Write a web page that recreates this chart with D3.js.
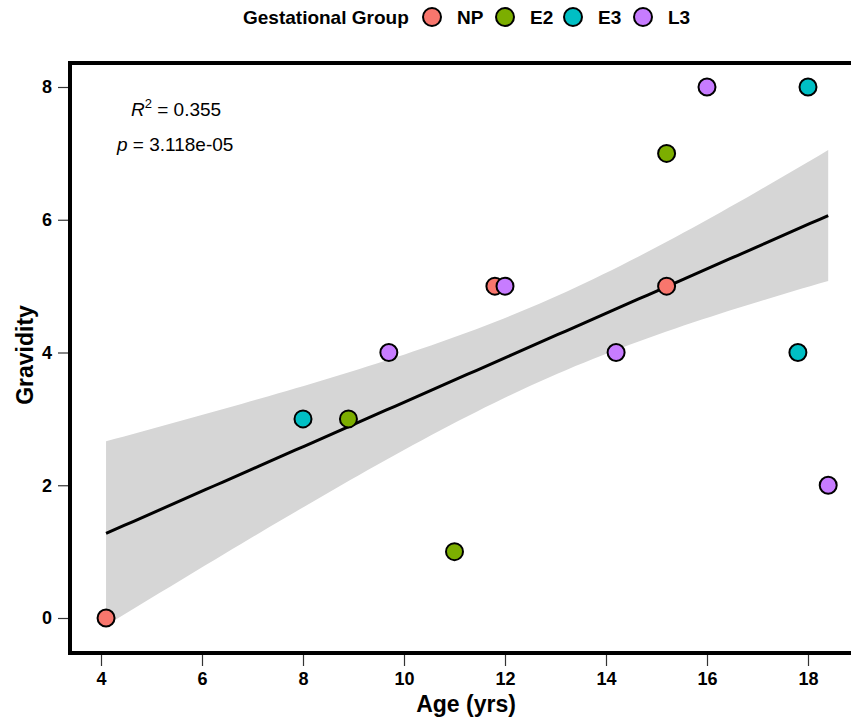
<!DOCTYPE html>
<html>

<head>
    <meta charset="UTF-8">
    <title>Gravidity vs age</title>
    <script src="https://d3js.org/d3.v7.min.js"></script>
    <style>
        body { margin: 0; background: #fff; }
        text { font-family: "Liberation Sans", Arial, sans-serif; }
    </style>
</head>

<body>
    <script>
        // values
        const groups = ["NP", "E2", "E3", "L3"];
        const groupColors = ["#F8766D", "#7CAE00", "#00BFC4", "#C77CFF"];
        const ageNP = [4.1, 11.8, 15.2], gravNP = [0, 5, 5];
        const ageE2 = [8.9, 11.0, 15.2], gravE2 = [3, 1, 7];
        const ageE3 = [8.0, 17.8, 18.0], gravE3 = [3, 4, 8];
        const ageL3 = [9.7, 12.0, 14.2, 16.0, 18.4], gravL3 = [4, 5, 4, 8, 2];
        const xTicks = [4, 6, 8, 10, 12, 14, 16, 18];
        const yTicks = [0, 2, 4, 6, 8];
        const r2Label = "0.355", pLabel = "3.118e-05";

        const width = 851, height = 720;

        const points = [];
        [[ageNP, gravNP], [ageE2, gravE2], [ageE3, gravE3], [ageL3, gravL3]].forEach(([a, g], i) => {
            a.forEach((x, j) => points.push({ age: x, grav: g[j], group: groups[i] }));
        });

        const color = d3.scaleOrdinal().domain(groups).range(groupColors);

        const xScale = d3.scaleLinear().domain([4, 18]).range([101, 808]);
        const yScale = d3.scaleLinear().domain([0, 8]).range([618, 87]);

        // linear fit with a confidence band (as in geom_smooth(method = "lm"))
        const n = points.length;
        const mx = d3.mean(points, d => d.age), my = d3.mean(points, d => d.grav);
        const sxx = d3.sum(points, d => (d.age - mx) ** 2);
        const sxy = d3.sum(points, d => (d.age - mx) * (d.grav - my));
        const slope = sxy / sxx, intercept = my - slope * mx;
        const resid = d3.sum(points, d => (d.grav - intercept - slope * d.age) ** 2);
        const s = Math.sqrt(resid / (n - 2));
        const bandMult = 1.1;
        const [xmin, xmax] = d3.extent(points, d => d.age);
        const fit = d3.range(0, 81).map(i => {
            const x = xmin + (xmax - xmin) * i / 80;
            const y = intercept + slope * x;
            const se = s * Math.sqrt(1 / n + (x - mx) ** 2 / sxx);
            return { x, y, lo: y - bandMult * se, hi: y + bandMult * se };
        });

        const svg = d3.select("body").append("svg")
            .attr("width", width).attr("height", height);

        svg.append("path")
            .datum(fit)
            .attr("d", d3.area().x(d => xScale(d.x)).y0(d => yScale(d.lo)).y1(d => yScale(d.hi)))
            .attr("fill", "#d6d6d6");

        svg.append("path")
            .datum(fit)
            .attr("d", d3.line().x(d => xScale(d.x)).y(d => yScale(d.y)))
            .attr("fill", "none")
            .attr("stroke", "#000")
            .attr("stroke-width", 3);

        svg.selectAll("circle.pt")
            .data(points).enter().append("circle")
            .attr("class", "pt")
            .attr("cx", d => xScale(d.age))
            .attr("cy", d => yScale(d.grav))
            .attr("r", 8.5)
            .attr("fill", d => color(d.group))
            .attr("stroke", "#000")
            .attr("stroke-width", 2);

        // panel border (right side runs off the page)
        svg.append("rect")
            .attr("x", 70).attr("y", 63)
            .attr("width", 820).attr("height", 590)
            .attr("fill", "none")
            .attr("stroke", "#000")
            .attr("stroke-width", 4);

        // axes
        const xAxis = svg.append("g")
            .attr("transform", "translate(0,655)")
            .call(d3.axisBottom(xScale).tickValues(xTicks).tickSize(11).tickPadding(6));
        const yAxis = svg.append("g")
            .attr("transform", "translate(68,0)")
            .call(d3.axisLeft(yScale).tickValues(yTicks).tickSize(10).tickPadding(6));
        [xAxis, yAxis].forEach(g => {
            g.select(".domain").remove();
            g.selectAll(".tick line").attr("stroke", "#333").attr("stroke-width", 1.2);
            g.selectAll(".tick text")
                .attr("fill", "#000")
                .attr("font-size", 18)
                .attr("font-weight", "bold");
        });

        svg.append("text")
            .attr("x", 466).attr("y", 712)
            .attr("text-anchor", "middle")
            .attr("font-size", 23).attr("font-weight", "bold")
            .text("Age (yrs)");

        svg.append("text")
            .attr("transform", "translate(33,355) rotate(-90)")
            .attr("text-anchor", "middle")
            .attr("font-size", 23).attr("font-weight", "bold")
            .text("Gravidity");

        // stats labels
        const r2 = svg.append("text").attr("x", 131).attr("y", 116).attr("font-size", 19);
        r2.append("tspan").attr("font-style", "italic").text("R");
        r2.append("tspan").attr("dy", -8).attr("font-size", 13).text("2");
        r2.append("tspan").attr("dy", 8).text(" = " + r2Label);

        const pt = svg.append("text").attr("x", 117).attr("y", 151).attr("font-size", 19);
        pt.append("tspan").attr("font-style", "italic").text("p");
        pt.append("tspan").text(" = " + pLabel);

        // legend
        const legend = svg.append("g");
        legend.append("text")
            .attr("x", 243).attr("y", 24)
            .attr("font-size", 19).attr("font-weight", "bold")
            .text("Gestational Group");
        const legX = [432, 505, 573, 643];
        groups.forEach((g, i) => {
            legend.append("circle")
                .attr("cx", legX[i]).attr("cy", 17).attr("r", 9)
                .attr("fill", color(g)).attr("stroke", "#000").attr("stroke-width", 2);
            legend.append("text")
                .attr("x", legX[i] + 25).attr("y", 24)
                .attr("font-size", 19).attr("font-weight", "bold")
                .text(g);
        });
    </script>
</body>

</html>
